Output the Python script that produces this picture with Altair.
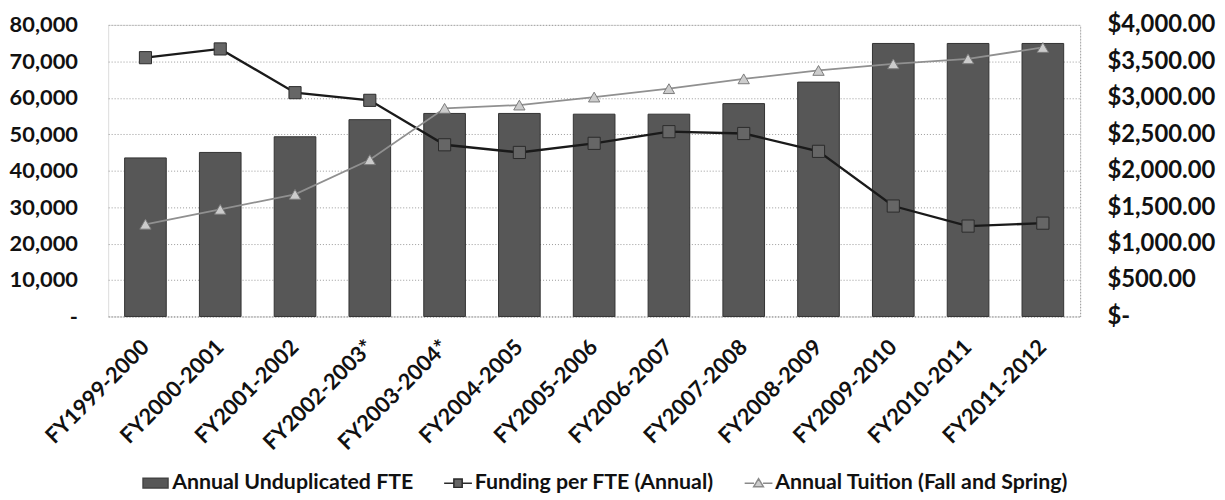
import altair as alt
import pandas as pd

years = ["FY1999-2000", "FY2000-2001", "FY2001-2002", "FY2002-2003*", "FY2003-2004*",
         "FY2004-2005", "FY2005-2006", "FY2006-2007", "FY2007-2008", "FY2008-2009",
         "FY2009-2010", "FY2010-2011", "FY2011-2012"]
fte = [43500, 45000, 49300, 54000, 55700, 55700, 55500, 55500, 58400, 64300, 74900, 74900, 74900]
funding = [3550, 3670, 3070, 2965, 2355, 2250, 2375, 2535, 2510, 2265, 1515, 1240, 1280]
tuition = [1265, 1470, 1675, 2150, 2855, 2900, 3010, 3125, 3260, 3375, 3465, 3535, 3690]
series_names = ["Annual Unduplicated FTE", "Funding per FTE (Annual)", "Annual Tuition (Fall and Spring)"]
left_ticks = [0, 10000, 20000, 30000, 40000, 50000, 60000, 70000, 80000]
right_ticks = [0, 500, 1000, 1500, 2000, 2500, 3000, 3500, 4000]

df = pd.DataFrame({"year": years, "fte": fte, "funding": funding, "tuition": tuition})
legend_df = pd.DataFrame({"series": series_names})

FONT = "Lato"
TXT = "#111111"

x_enc = alt.X(
    "year:N", sort=years, title=None,
    scale=alt.Scale(paddingInner=0.443, paddingOuter=0.22),
    axis=alt.Axis(labelAngle=-45, labelAlign="right", labelBaseline="middle",
                  labelPadding=27, ticks=False, domain=True, domainColor="#999999",
                  domainDash=[1, 2], grid=False, labelFont=FONT, labelFontSize=22,
                  labelFontWeight="bold", labelColor=TXT),
)

left_axis = alt.Axis(values=left_ticks,
                     labelExpr="datum.value == 0 ? '-\u00a0\u00a0' : format(datum.value, ',')",
                     ticks=False, domain=False, grid=True, gridDash=[1, 2], gridColor="#999999",
                     labelPadding=31, minExtent=101, labelFont=FONT, labelFontSize=22,
                     labelFontWeight="bold", labelColor=TXT)

right_axis = alt.Axis(orient="right", values=right_ticks,
                      labelExpr="datum.value == 0 ? '$-' : '$' + format(datum.value, ',.2f')",
                      ticks=False, domain=True, domainDash=[1, 2], domainColor="#999999",
                      grid=False, labelPadding=27, labelAlign="left", labelFont=FONT,
                      labelFontSize=24, labelFontWeight="bold", labelColor=TXT)

right_scale = alt.Scale(domain=[0, 4000], nice=False)

bars = alt.Chart(df).mark_bar(color="#575757", stroke="#333333", strokeWidth=1).encode(
    x=x_enc,
    y=alt.Y("fte:Q", scale=alt.Scale(domain=[0, 80000], nice=False), title=None, axis=left_axis),
)

f_line = alt.Chart(df).mark_line(color="#1a1a1a", strokeWidth=2.4).encode(
    x=x_enc, y=alt.Y("funding:Q", scale=right_scale, title=None, axis=right_axis))
f_pts = alt.Chart(df).mark_point(shape="square", filled=True, size=150, fill="#666666",
                                 stroke="#2a2a2a", strokeWidth=1, opacity=1).encode(
    x=x_enc, y=alt.Y("funding:Q", scale=right_scale, title=None, axis=right_axis))
t_line = alt.Chart(df).mark_line(color="#909090", strokeWidth=1.8).encode(
    x=x_enc, y=alt.Y("tuition:Q", scale=right_scale, title=None, axis=right_axis))
t_pts = alt.Chart(df).mark_point(shape="triangle-up", filled=True, size=130, fill="#cccccc",
                                 stroke="#7a7a7a", strokeWidth=1, opacity=1).encode(
    x=x_enc, y=alt.Y("tuition:Q", scale=right_scale, title=None, axis=right_axis))

right = alt.layer(f_line, f_pts, t_line, t_pts)

path_bar = "M-1.8,-0.7H1.8V0.7H-1.8Z"
path_f = "M-2,0H-0.6M0.6,0H2M-0.6,-0.6H0.6V0.6H-0.6Z"
path_t = "M-2,0H-0.65M0.65,0H2M0,-0.65L0.7,0.5H-0.7Z"

leg_obj = alt.Legend(
    title=None, orient="none", legendX=30, legendY=451, direction="horizontal",
    symbolSize=196, symbolOffset=7, labelOffset=6, columnPadding=27, labelLimit=0,
    labelFont=FONT, labelFontSize=21.5, labelFontWeight="bold", labelColor=TXT,
    symbolOpacity=1, symbolStrokeWidth=1.5,
)

leg = alt.Chart(legend_df).mark_point(filled=True, opacity=0, strokeWidth=1.5).encode(
    fill=alt.Fill("series:N", scale=alt.Scale(domain=series_names,
                                              range=["#575757", "#666666", "#cccccc"]),
                  legend=leg_obj),
    stroke=alt.Stroke("series:N", scale=alt.Scale(domain=series_names,
                                                  range=["#444444", "#2a2a2a", "#8a8a8a"]),
                      legend=leg_obj),
    shape=alt.Shape("series:N", scale=alt.Scale(domain=series_names,
                                                range=[path_bar, path_f, path_t]),
                    legend=leg_obj),
)

chart = alt.layer(bars, right, leg).resolve_scale(y="independent").properties(
    width=980, height=294,
    padding={"left": 0, "top": 3, "right": 2, "bottom": 0},
).configure_view(stroke=None).configure(background="white")

chart.save("out.html", embed_options={"renderer": "svg", "actions": False})
